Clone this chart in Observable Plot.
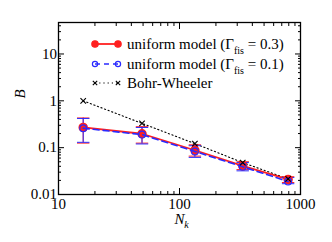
<!DOCTYPE html>
<html><head><meta charset="utf-8">
<script src="https://cdn.jsdelivr.net/npm/d3@7"></script>
<script src="https://cdn.jsdelivr.net/npm/@observablehq/plot@0.6"></script>
<style>
body{margin:0;background:#fff;}
#wrap{position:relative;width:332px;height:242px;}
#legend{position:absolute;left:0;top:0;width:332px;height:242px;pointer-events:none;}
#legend text{font-family:"Liberation Serif","Times New Roman","DejaVu Serif",serif;}
</style></head><body>
<div id="wrap"><div id="chart"></div><svg id="legend" width="332" height="242"></svg></div>
<script>
const Nk = [16, 49, 134, 333, 790];
const bUniform03 = [0.27, 0.198, 0.088, 0.041, 0.021];
const lo03 = [0.125, 0.125, 0.066, 0.034, 0.018];
const hi03 = [0.43, 0.28, 0.115, 0.05, 0.024];
const bUniform01 = [0.26, 0.19, 0.083, 0.039, 0.019];
const lo01 = [0.13, 0.12, 0.062, 0.032, 0.017];
const hi01 = [0.42, 0.27, 0.11, 0.048, 0.023];
const bBohrWheeler = [1.0, 0.33, 0.122, 0.048, 0.0215];
const xMajor = [10, 100, 1000];
const xMinor = [20,30,40,50,60,70,80,90,200,300,400,500,600,700,800,900];
const yMajor = [0.01, 0.1, 1, 10];
const yMinor = [0.02,0.03,0.04,0.05,0.06,0.07,0.08,0.09,0.2,0.3,0.4,0.5,0.6,0.7,0.8,0.9,2,3,4,5,6,7,8,9,20,30,40];
const legendLabels = ["uniform model (Γ", "fis", " = 0.3)", " = 0.1)", "Bohr-Wheeler"];

const serif = '"Liberation Serif", "Times New Roman", "DejaVu Serif", serif';
const red = "#ff2020", blue = "#2a2aff";
const r03 = Nk.map((x,i)=>({x, y:bUniform03[i], lo:lo03[i], hi:hi03[i]}));
const r01 = Nk.map((x,i)=>({x, y:bUniform01[i], lo:lo01[i], hi:hi01[i]}));
const bw = Nk.map((x,i)=>({x, y:bBohrWheeler[i]}));
const cap = {draw(ctx, size){ const w = Math.sqrt(size); ctx.moveTo(-w,0); ctx.lineTo(w,0);} };

const fmt = d => String(d);
const chart = Plot.plot({
  width: 332, height: 242,
  marginLeft: 58, marginRight: 32, marginTop: 22, marginBottom: 48,
  style: {fontFamily: serif, fontSize: "15px", color: "#000", background: "#fff"},
  x: {type: "log", domain: [10, 1000]},
  y: {type: "log", domain: [0.01, 47]},
  marks: [
    Plot.axisX({anchor:"bottom", ticks: xMajor, tickSize:-6, tickPadding:10, tickFormat: fmt, fontSize:15, fontFamily: serif, label:null}),
    Plot.axisX({anchor:"bottom", ticks: xMinor, tickSize:-3, tickFormat: ()=>"", label:null}),
    Plot.axisX({anchor:"top", ticks: xMajor, tickSize:-6, tickFormat: ()=>"", label:null}),
    Plot.axisX({anchor:"top", ticks: xMinor, tickSize:-3, tickFormat: ()=>"", label:null}),
    Plot.axisY({anchor:"left", ticks: yMajor, tickSize:-6, tickPadding:7.5, tickFormat: fmt, fontSize:15, fontFamily: serif, label:null}),
    Plot.axisY({anchor:"left", ticks: yMinor, tickSize:-3, tickFormat: ()=>"", label:null}),
    Plot.axisY({anchor:"right", ticks: yMajor, tickSize:-6, tickFormat: ()=>"", label:null}),
    Plot.axisY({anchor:"right", ticks: yMinor, tickSize:-3, tickFormat: ()=>"", label:null}),
    Plot.frame({stroke:"#000", strokeWidth:1.3}),
    Plot.line(bw, {x:"x", y:"y", stroke:"#000", strokeDasharray:"1.2,2.6", strokeWidth:1.1}),
    Plot.ruleX(r03, {x:"x", y1:"lo", y2:"hi", stroke:red, strokeWidth:1}),
    Plot.dot(r03, {x:"x", y:"lo", symbol:cap, r:3.5, stroke:red, strokeWidth:1}),
    Plot.dot(r03, {x:"x", y:"hi", symbol:cap, r:3.5, stroke:red, strokeWidth:1}),
    Plot.line(r03, {x:"x", y:"y", stroke:red, strokeWidth:1.8}),
    Plot.ruleX(r01, {x:"x", y1:"lo", y2:"hi", stroke:blue, strokeWidth:1}),
    Plot.dot(r01, {x:"x", y:"lo", symbol:cap, r:3.5, stroke:blue, strokeWidth:1}),
    Plot.dot(r01, {x:"x", y:"hi", symbol:cap, r:3.5, stroke:blue, strokeWidth:1}),
    Plot.dot(r03, {x:"x", y:"y", r:4, fill:red, stroke:red}),
    Plot.line(r01, {x:"x", y:"y", stroke:blue, strokeWidth:1.6, strokeDasharray:"6,4"}),
    Plot.dot(r01, {x:"x", y:"y", r:3.4, fill:"none", stroke:blue, strokeWidth:1.2}),
    Plot.dot(bw, {x:"x", y:"y", symbol:"times", r:2.6, stroke:"#000", strokeWidth:1.1}),
    Plot.text(["N"], {frameAnchor:"bottom", dy:29, text:d=>d, fontStyle:"italic", fontSize:15, fontFamily: serif}),
    Plot.text(["k"], {frameAnchor:"bottom", dx:7, dy:33, text:d=>d, fontStyle:"italic", fontSize:10, fontFamily: serif}),
    Plot.text(["B"], {frameAnchor:"left", dx:-38, dy:-10, text:d=>d, fontStyle:"italic", fontSize:15, rotate:-90, fontFamily: serif})
  ]
});
document.getElementById("chart").append(chart);

// legend
const lg = d3.select("#legend");
const rows = [
  {y:44, color:red, dash:null, fill:red, r:3.2, sw:1.8, text:[legendLabels[0], legendLabels[1], legendLabels[2]]},
  {y:64, color:blue, dash:"5,4", fill:"none", r:2.6, sw:1.5, text:[legendLabels[0], legendLabels[1], legendLabels[3]]},
  {y:83, color:"#000", dash:"1.2,3", fill:null, r:0, sw:1.1, text:[legendLabels[4]]}
];
rows.forEach(row => {
  lg.append("line").attr("x1",95).attr("x2",118).attr("y1",row.y).attr("y2",row.y)
    .attr("stroke",row.color).attr("stroke-width",row.sw).attr("stroke-dasharray",row.dash);
  [95,118].forEach(cx => {
    if (row.fill === null) {
      const s=2.2;
      lg.append("path").attr("d",`M${cx-s},${row.y-s}L${cx+s},${row.y+s}M${cx-s},${row.y+s}L${cx+s},${row.y-s}`).attr("stroke","#000").attr("stroke-width",1.1);
    } else {
      lg.append("circle").attr("cx",cx).attr("cy",row.y).attr("r",row.r).attr("fill",row.fill).attr("stroke",row.color).attr("stroke-width",1.2);
    }
  });
  const t = lg.append("text").attr("x",127).attr("y",row.y+5).attr("font-size",15);
  if (row.text.length === 1) t.text(row.text[0]);
  else {
    t.append("tspan").text(row.text[0]);
    t.append("tspan").attr("font-size",10).attr("dy",4.5).text(row.text[1]);
    t.append("tspan").attr("dy",-4.5).text(row.text[2]);
  }
});
</script>
</body></html>
